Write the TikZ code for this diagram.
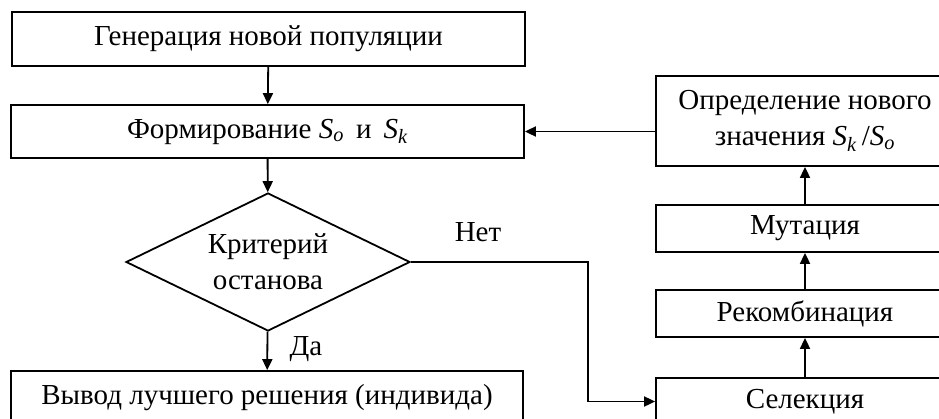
\documentclass[tikz,border=0pt]{standalone}
\usepackage{fontspec}
\setmainfont{Liberation Serif}
\usetikzlibrary{shapes.geometric,arrows.meta}

\begin{document}
\begin{tikzpicture}[x=1pt,y=-1pt,
  every node/.style={font=\fontsize{29}{36}\selectfont,inner sep=0pt},
  blk/.style={draw,line width=1.8pt,rectangle,minimum width=#1},
  blk/.default=513pt,
  crit/.style={draw,line width=1.8pt,diamond,aspect=2,minimum width=284pt,minimum height=138pt},
  arr/.style={line width=1.8pt,-{Triangle[length=11pt,width=10pt]}}]
  \useasboundingbox (0,0) rectangle (939,418);
  \clip (0,0) rectangle (939,418);

  % Left column
  \node[blk,minimum height=54pt] (gen) at (268.5,39) {Генерация новой популяции};
  \node[blk,minimum height=53pt] (form) at (267.5,131.5)
    {Формирование \textit{S}\textsubscript{\textit{o}} \,и\, \textit{S}\textsubscript{\textit{k}}};
  \node[crit,align=center] (stop) at (268,262) {Критерий\\останова};
  \node[blk=512pt,minimum height=54pt] (best) at (267,398) {Вывод лучшего решения (индивида)};

  % Right column
  \node[blk=298pt,minimum height=90pt,align=center] (newval) at (805,121)
    {Определение нового\\значения \textit{S}\textsubscript{\textit{k}}\,/\textit{S}\textsubscript{\textit{o}}};
  \node[blk=298pt,minimum height=47pt] (mut) at (805,228.5) {Мутация};
  \node[blk=298pt,minimum height=47pt] (rec) at (805,313.5) {Рекомбинация};
  \node[blk=298pt,minimum height=47pt] (sel) at (805,401.5) {Селекция};

  % Labels
  \node (no) at (478,232) {Нет};
  \node (yes) at (306,349) {Да};
  \coordinate (bend) at (588,262);

  % Connectors
  \draw[arr] (gen) -- (form);
  \draw[arr] (form) -- (stop);
  \draw[arr] (stop) -- (best);
  \draw[arr] (stop.east) -- (bend) |- (sel.west);
  \draw[arr] (sel) -- (rec);
  \draw[arr] (rec) -- (mut);
  \draw[arr] (mut) -- (newval);
  \draw[arr] (newval.west |- form.east) -- (form.east);
\end{tikzpicture}
\end{document}
